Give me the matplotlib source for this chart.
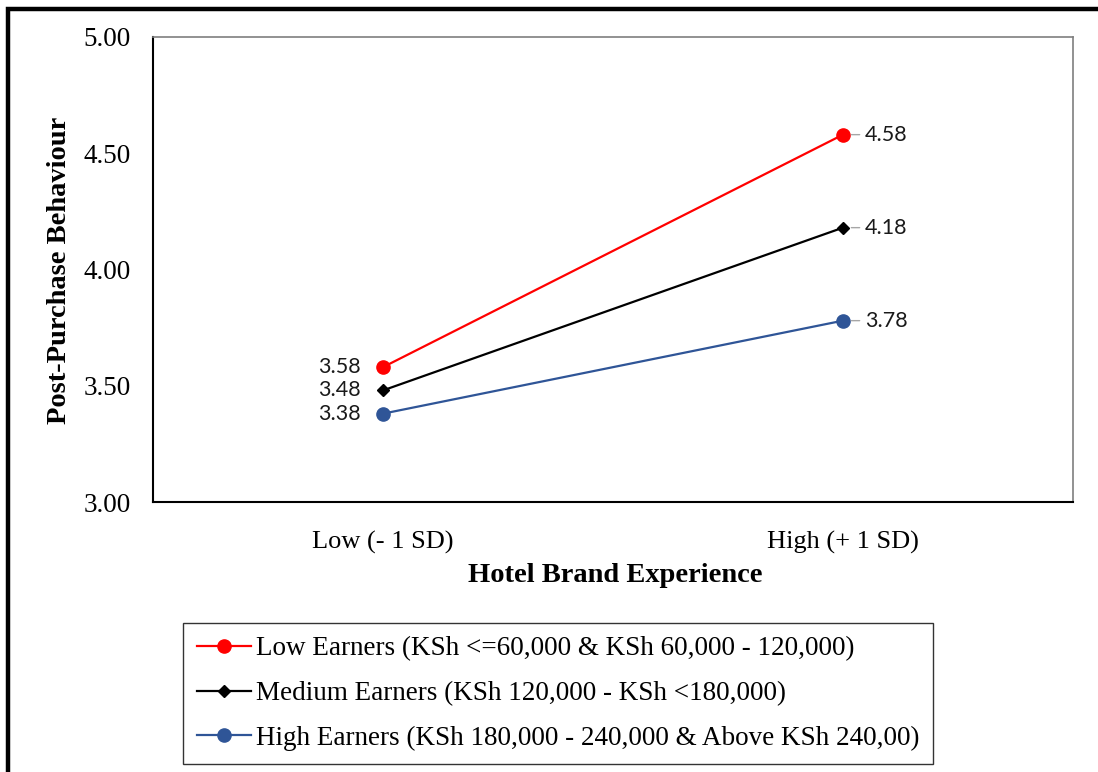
import matplotlib.pyplot as plt
from matplotlib.patches import Rectangle

# Interaction plot data
categorias = ['Low (- 1 SD)', 'High (+ 1 SD)']
bajos = [3.58, 4.58]
medios = [3.48, 4.18]
altos = [3.38, 3.78]
etiquetas = ['Low Earners (KSh <=60,000 & KSh 60,000 - 120,000)',
             'Medium Earners (KSh 120,000 - KSh <180,000)',
             'High Earners (KSh 180,000 - 240,000 & Above KSh 240,00)']
yticks = [3.00, 3.50, 4.00, 4.50, 5.00]

serif = 'Liberation Serif'
sans = 'Lato'

fig = plt.figure(figsize=(10.98, 7.72), dpi=100)
ax = fig.add_axes([153 / 1098, 1 - 502 / 772, 920 / 1098, 465 / 772])

x = list(range(len(categorias)))
series = [
    (bajos, '#FF0000', 'o', 9.5),
    (medios, '#000000', 'D', 6),
    (altos, '#2F5597', 'o', 9.5),
]
for (vals, color, marker, ms), lab in zip(series, etiquetas):
    ax.plot(x, vals, color=color, lw=1.6, marker=marker, markersize=ms, label=lab)
    # value labels at each end
    ax.annotate(f'{vals[0]:.2f}', (x[0], vals[0]), xytext=(-16, 0),
                textcoords='offset points', ha='right', va='center',
                fontsize=15.5, family=sans, color='#1A1A1A')
    ax.annotate(f'{vals[1]:.2f}', (x[1], vals[1]), xytext=(16, 0),
                textcoords='offset points', ha='left', va='center',
                fontsize=15.5, family=sans, color='#1A1A1A',
                arrowprops=dict(arrowstyle='-', color='#A6A6A6', lw=1,
                                shrinkA=2, shrinkB=6))

ax.set_xlim(-0.5, 1.5)
ax.set_ylim(3.0, 5.0)
ax.set_yticks(yticks)
ax.set_yticklabels([f'{v:.2f}' for v in yticks], family=serif, fontsize=19.5)
ax.set_xticks(x)
ax.set_xticklabels(categorias, family=serif, fontsize=19)
ax.tick_params(axis='y', length=0, pad=16)
ax.tick_params(axis='x', length=0, pad=20.5)

for s in ['left', 'bottom']:
    ax.spines[s].set_color('black')
    ax.spines[s].set_linewidth(1.5)
for s in ['top', 'right']:
    ax.spines[s].set_color('#7F7F7F')
    ax.spines[s].set_linewidth(1.2)

fig.text(60 / 1098, 1 - 270 / 772, 'Post-Purchase Behaviour', rotation=90,
         ha='center', va='center', family=serif, fontsize=20.5, fontweight='bold')
fig.text(615 / 1098, 1 - 576 / 772, 'Hotel Brand Experience',
         ha='center', va='center', family=serif, fontsize=20.5, fontweight='bold')

leg = fig.legend(loc='upper left', bbox_to_anchor=(183 / 1098, 1 - 623 / 772),
                 bbox_transform=fig.transFigure, prop={'family': serif, 'size': 19.5},
                 frameon=True, fancybox=False, edgecolor='black',
                 handlelength=2.0, handletextpad=0.2, labelspacing=0.72,
                 borderpad=0.5, borderaxespad=0)
leg.get_frame().set_linewidth(1.0)

# outer border
fig.add_artist(Rectangle((8 / 1098, -0.1), 1.2, 1.1 - 8.5 / 772, transform=fig.transFigure,
                         fill=False, edgecolor='black', lw=3.2, clip_on=False))

fig.savefig('out.png', dpi=100)
